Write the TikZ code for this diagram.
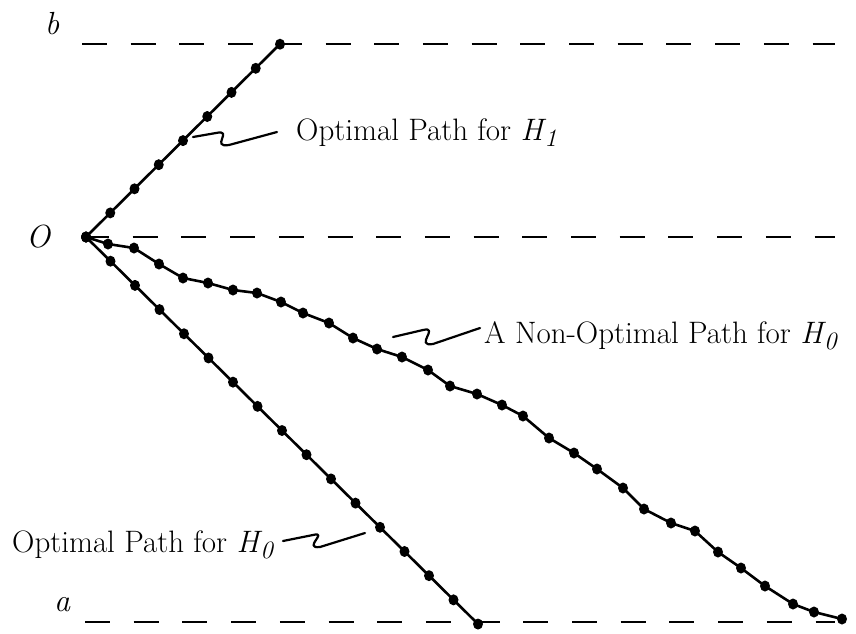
\documentclass[tikz,border=0pt]{standalone}
\newcommand{\Hsub}[1]{\textit{H}\kern-0.06em\raisebox{-0.2em}{\fontsize{25}{28}\selectfont\itshape #1}}
\begin{document}
\begin{tikzpicture}[x=1pt,y=-1pt,
  level/.style={line width=2pt,dash pattern=on 25pt off 23.7pt},
  pathline/.style={line width=2.6pt,line join=round},
  leader/.style={line width=2.2pt,line cap=round,line join=round},
  lab/.style={font=\fontsize{31}{36}\selectfont,inner sep=0pt},
  sym/.style={font=\fontsize{32}{36}\selectfont\itshape,inner sep=0pt},
  dotstyle/.style={fill=black}]
\useasboundingbox (0,0) rectangle (856,633);
% levels
\draw[level] (82,44) -- (835,44);
\draw[level] (84,237) -- (835,237);
\draw[level] (85,622) -- (835,622);
\node[sym] (lb) at (52,24) {b};
\node[sym] (lO) at (38,237) {O};
\node[sym] (la) at (62,605) {a};
% optimal path H1
\draw[pathline] (86,237) -- (280,44);
\foreach \i in {0,...,8} \fill[dotstyle] ({86+24.25*\i},{237-24.1*\i}) ellipse (5 and 5.5);
% optimal path H0
\draw[pathline] (86,237) -- (478,624);
\foreach \i in {0,...,16} \fill[dotstyle] ({86+24.5*\i},{237+24.19*\i}) ellipse (5 and 5.5);
% non-optimal path
\draw[pathline] plot coordinates {(86,237)(108,244)(134,248)(159,264)(183,278)(208,283)(233,290)(257,293)(281,302)(303,313)(329,323)(353,338)(377,349)(402,357)(428,370)(450,386)(477,394)(502,405)(523,416)(549,438)(574,453)(597,469)(623,488)(644,509)(671,523)(695,531)(718,552)(741,568)(765,586)(793,604)(814,612)(842,619)};
\foreach \p in {(86,237),(108,244),(134,248),(159,264),(183,278),(208,283),(233,290),(257,293),(281,302),(303,313),(329,323),(353,338),(377,349),(402,357),(428,370),(450,386),(477,394),(502,405),(523,416),(549,438),(574,453),(597,469),(623,488),(644,509),(671,523),(695,531),(718,552),(741,568),(765,586),(793,604),(814,612),(842,619)}
  \fill[dotstyle] \p ellipse (5 and 5.5);
% labels
\node[lab,anchor=base west] (t1) at (296,140) {Optimal Path for \Hsub{1}};
\node[lab,anchor=base west] (t2) at (484,343) {A Non-Optimal Path for \Hsub{0}};
\node[lab,anchor=base west] (t3) at (12,552) {Optimal Path for \Hsub{0}};
% leaders
\draw[leader] (193,137) -- (216,133) .. controls (234,129) and (210,148) .. (229,145) -- (277,132);
\draw[leader] (393,337) -- (423,330) .. controls (440,326) and (414,347) .. (433,344) -- (480,328);
\draw[leader] (283,541) -- (313,535) .. controls (329,531) and (302,549) .. (320,547) -- (365,533);
\end{tikzpicture}
\end{document}
